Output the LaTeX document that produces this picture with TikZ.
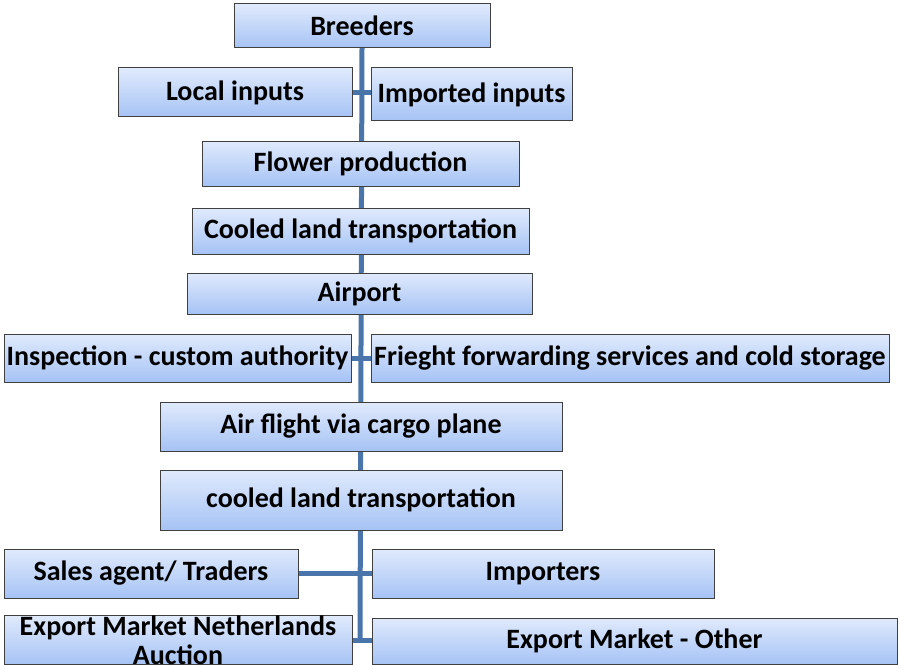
\documentclass[tikz,border=0pt]{standalone}
\usepackage{fontspec}
\setmainfont{Carlito}
\definecolor{linec}{RGB}{74,117,170}
\definecolor{boxtop}{RGB}{224,234,252}
\definecolor{boxbot}{RGB}{166,195,245}
\definecolor{boxdraw}{RGB}{64,64,64}
\tikzset{
  box/.style={draw=boxdraw, line width=1pt, top color=boxtop, bottom color=boxbot, inner sep=0pt,
    font=\fontsize{28}{29}\selectfont\bfseries, text=black},
  conn/.style={draw=linec, line width=5pt}
}
\begin{document}
\begin{tikzpicture}[x=1pt,y=-1pt]
\useasboundingbox (0,0) rectangle (899,666);
\coordinate (bot) at (360,640);
\draw[conn] (362,48) -- (bot);
\node[box, minimum width=256, minimum height=44] (breed) at (362,26) {Breeders};
\node[box, minimum width=234, minimum height=49] (local) at (235,92.5) {Local inputs};
\node[box, minimum width=201, minimum height=53] (imp) at (471.5,94.5) {Imported inputs};
\node[box, minimum width=317, minimum height=45] (flower) at (360.5,163.5) {Flower production};
\node[box, minimum width=337, minimum height=46] (cool1) at (360.5,231) {Cooled land transportation};
\node[box, minimum width=345, minimum height=41] (airport) at (359.5,293.5) {Airport};
\node[box, minimum width=347, minimum height=48] (insp) at (177.5,358) {Inspection - custom authority};
\node[box, minimum width=518, minimum height=48] (freight) at (630,358) {Frieght forwarding services and cold storage};
\node[box, minimum width=402, minimum height=49] (air) at (361,426.5) {Air flight via cargo plane};
\node[box, minimum width=402, minimum height=60] (cool2) at (361,500) {cooled land transportation};
\node[box, minimum width=294, minimum height=49] (sales) at (151,573.5) {Sales agent/ Traders};
\node[box, minimum width=342, minimum height=49] (importers) at (543,573.5) {Importers};
\node[box, minimum width=348, minimum height=41, align=center] (expnl) at (178,640) {Export Market Netherlands\\Auction};
\node[box, minimum width=525, minimum height=46] (expoth) at (634.5,641) {Export Market - Other};
\draw[conn] (local.east) -- (imp.west |- local.east);
\draw[conn] (insp.east) -- (freight.west |- insp.east);
\draw[conn] (sales.east) -- (importers.west |- sales.east);
\draw[conn] (expnl.east) -- (expoth.west |- expnl.east);
\end{tikzpicture}
\end{document}
